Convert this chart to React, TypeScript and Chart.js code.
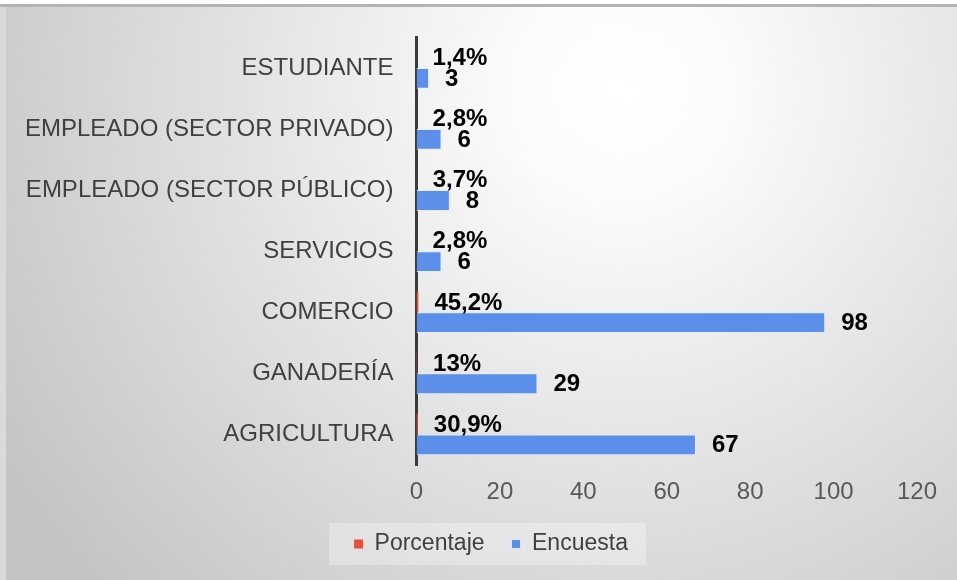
import React, { useEffect, useRef } from 'react';
import { Chart, registerables } from 'chart.js';
Chart.register(...registerables);

const categories = [
  'ESTUDIANTE',
  'EMPLEADO (SECTOR PRIVADO)',
  'EMPLEADO (SECTOR PÚBLICO)',
  'SERVICIOS',
  'COMERCIO',
  'GANADERÍA',
  'AGRICULTURA',
];
const porcentaje = [0.014, 0.028, 0.037, 0.028, 0.452, 0.13, 0.309];
const encuesta = [3, 6, 8, 6, 98, 29, 67];
const xTicks = [0, 20, 40, 60, 80, 100, 120];

const FONT = '"Liberation Sans", Arial, sans-serif';

function fmtPct(v: number): string {
  let s = (v * 100).toFixed(1);
  if (s.endsWith('.0')) s = s.slice(0, -2);
  return s.replace('.', ',') + '%';
}

const bgPlugin = {
  id: 'bg',
  afterLayout(chart: any) {
    const lg = chart.legend;
    if (lg) {
      lg.left = 65;
    }
  },
  beforeDraw(chart: any) {
    const ctx = chart.ctx;
    const w = chart.width;
    const h = chart.height;
    ctx.save();
    ctx.fillStyle = '#ffffff';
    ctx.fillRect(0, 0, w, h);
    ctx.fillStyle = '#dadada';
    ctx.fillRect(0, 7, 6, h - 7);
    const g = ctx.createRadialGradient(620, 90, 0, 620, 90, 720);
    g.addColorStop(0, '#ffffff');
    g.addColorStop(0.15, '#fbfbfb');
    g.addColorStop(1, '#c4c4c4');
    ctx.fillStyle = g;
    ctx.fillRect(6, 7, w - 6, h - 7);
    ctx.fillStyle = '#b4b4b4';
    ctx.fillRect(0, 4, w, 3);
    // legend background box
    const lg = chart.legend;
    if (lg && lg.legendHitBoxes && lg.legendHitBoxes.length) {
      const hb = lg.legendHitBoxes;
      let l = Infinity, r = -Infinity, t = Infinity, b = -Infinity;
      hb.forEach((bx: any) => {
        l = Math.min(l, bx.left);
        r = Math.max(r, bx.left + bx.width);
        t = Math.min(t, bx.top);
        b = Math.max(b, bx.top + bx.height);
      });
      const cy = (t + b) / 2;
      ctx.fillStyle = 'rgba(255,255,255,0.3)';
      ctx.fillRect(l - 25, cy - 21, r - l + 43, 42);
    }
    ctx.restore();
  },
};

const labelPlugin = {
  id: 'valueLabels',
  afterDatasetsDraw(chart: any) {
    const ctx = chart.ctx;
    ctx.save();
    ctx.font = 'bold 24px ' + FONT;
    ctx.fillStyle = '#000000';
    ctx.textAlign = 'left';
    ctx.textBaseline = 'middle';
    chart.data.datasets.forEach((ds: any, di: number) => {
      const meta = chart.getDatasetMeta(di);
      meta.data.forEach((el: any, i: number) => {
        const v = ds.data[i];
        const text = di === 0 ? fmtPct(v) : String(v);
        ctx.fillText(text, el.x + 16, el.y + 1);
      });
    });
    ctx.restore();
  },
};

export default function App() {
  const ref = useRef<HTMLCanvasElement | null>(null);
  useEffect(() => {
    if (!ref.current) return;
    const chart = new Chart(ref.current, {
      type: 'bar',
      data: {
        labels: categories,
        datasets: [
          {
            label: 'Porcentaje',
            data: porcentaje,
            backgroundColor: '#E8503A',
            borderWidth: 0,
            categoryPercentage: 0.68,
            barPercentage: 1,
          },
          {
            label: 'Encuesta',
            data: encuesta,
            backgroundColor: '#5B8FEA',
            borderColor: 'rgba(225,236,252,0.9)',
            borderWidth: 1,
            categoryPercentage: 0.68,
            barPercentage: 1,
          },
        ],
      },
      options: {
        indexAxis: 'y',
        animation: false,
        responsive: true,
        maintainAspectRatio: false,
        devicePixelRatio: 1,
        layout: { padding: { top: 34, right: 40, bottom: 14.5, left: 0 } },
        plugins: {
          legend: {
            position: 'bottom',
            labels: {
              boxWidth: 9,
              boxHeight: 9,
              padding: 27,
              color: '#404040',
              font: { size: 23, family: FONT },
            },
          },
          tooltip: { enabled: false },
        },
        scales: {
          x: {
            min: 0,
            max: 120,
            afterBuildTicks: (s: any) => {
              s.ticks = xTicks.map((v) => ({ value: v }));
            },
            afterFit: (s: any) => {
              s.height = 40.5;
            },
            grid: { display: false, drawTicks: false },
            border: { display: false },
            ticks: {
              color: '#595959',
              padding: 12.6,
              font: { size: 24, family: FONT },
            },
          },
          y: {
            z: 1,
            afterFit: (s: any) => {
              s.width = 416.5;
            },
            grid: { display: false, drawTicks: false },
            border: { display: true, color: '#3a3a3a', width: 3 },
            ticks: {
              color: '#404040',
              padding: 23,
              font: { size: 24, family: FONT },
            },
          },
        },
      },
      plugins: [bgPlugin, labelPlugin],
    } as any);
    return () => chart.destroy();
  }, []);
  return (
    <div style={{ position: 'absolute', left: 0, top: 0, width: 957, height: 580 }}>
      <canvas ref={ref} />
    </div>
  );
}
